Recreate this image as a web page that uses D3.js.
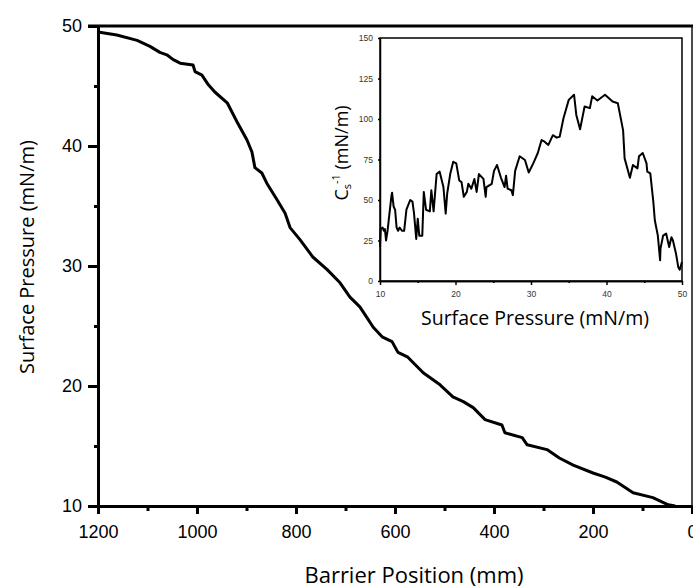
<!DOCTYPE html>
<html>
<head>
<meta charset="utf-8">
<script src="https://cdn.jsdelivr.net/npm/d3@7"></script>
<style>
  body { margin: 0; background: #fff; }
  svg { display: block; }
</style>
</head>
<body>
<div id="chart"></div>
<script>
// main isotherm: barrier position (mm) vs surface pressure (mN/m)
var barrierPos = [1200, 1162, 1121, 1095, 1075, 1061, 1048, 1034, 1008, 1004, 990, 977, 964, 939, 919, 899, 889, 883,
  869, 859, 838, 822, 812, 792, 766, 737, 711, 691,
  671, 655, 644, 626, 606, 594, 574, 543, 509, 483, 462, 442, 418, 384, 378, 343, 333, 293, 268, 240, 200, 175, 152, 119, 79, 48, 34];
var pressure = [49.5, 49.25, 48.8, 48.3, 47.8, 47.6, 47.2, 46.9, 46.75, 46.2, 45.9, 45.1, 44.5, 43.6, 42.0, 40.5, 39.5, 38.2,
  37.75, 36.9, 35.5, 34.4, 33.2, 32.2, 30.75, 29.7, 28.6, 27.4,
  26.6, 25.6, 24.9, 24.1, 23.7, 22.8, 22.4, 21.1, 20.1, 19.1, 18.7, 18.2, 17.2, 16.75, 16.1, 15.7, 15.1, 14.7, 14.0, 13.4, 12.75, 12.4, 12.0, 11.1, 10.7, 10.1, 10.0];

// inset: compressibility modulus vs surface pressure
var insetPi = [10.0, 10.1, 10.35, 10.5, 10.65, 10.8, 11.0, 11.5, 11.6, 11.8, 12.0, 12.2, 12.4, 12.6, 12.9, 13.2,
  13.5, 14.0, 14.3, 14.5, 14.8, 15.0, 15.2, 15.6, 15.8, 16.1, 16.6, 16.8, 17.1, 17.5, 17.9, 18.4, 18.7, 18.9,
  19.3, 19.7, 20.1, 20.5, 20.8, 21.1, 21.5, 21.7, 22.1, 22.5, 22.8, 23.1, 23.7, 24.0, 24.1, 24.8, 25.1, 25.5,
  26.0, 26.5, 26.7, 26.9, 27.4, 27.6, 27.9, 28.5, 29.2, 29.7, 30.3, 30.9, 31.4, 31.8, 32.3, 32.9, 33.4, 33.8,
  34.3, 35.0, 35.7, 36.0, 36.5, 37.1, 37.8, 38.1, 38.8, 39.8, 40.8, 41.5, 42.2, 42.4, 43.1, 43.5, 44.1, 44.3,
  44.8, 45.3, 45.4, 45.8, 46.2, 46.4, 46.8, 47.1, 47.15, 47.5, 47.9, 48.3, 48.6, 48.8, 49.2, 49.5, 49.7, 50.0];
var insetCs = [21, 32, 33, 31, 32, 25, 31, 52, 54.5, 46, 44, 33, 31, 33, 31, 31,
  44, 50, 49, 42, 26, 38.5, 28, 28, 55, 44, 43, 56, 43, 66, 67.5, 58, 41.6, 54,
  66, 73.6, 72.6, 62, 61, 52, 55, 60, 57, 63, 55, 66, 63, 52, 58, 60, 68, 71.6,
  64, 58, 65, 57, 56, 53, 68, 77, 74.7, 67, 72.6, 79, 87, 86, 84, 90, 88.5, 89,
  100.5, 111.8, 115, 102.5, 93.7, 107.7, 106.7, 114, 111.4, 115, 110.8, 109.7, 93, 75.7, 63.7, 71.6, 69.5, 77,
  79, 72.6, 67.5, 66.4, 49, 37.5, 28, 12.8, 20, 28, 29.3, 21, 27, 25, 17, 8.7, 7, 11.8];

var xMajor = [1200, 1000, 800, 600, 400, 200, 0];
var xMinor = [1100, 900, 700, 500, 300, 100];
var yMajor = [10, 20, 30, 40, 50];
var yMinor = [15, 25, 35, 45];
var inXMajor = [10, 20, 30, 40, 50];
var inXMinor = [15, 25, 35, 45];
var inYMajor = [0, 25, 50, 75, 100, 125, 150];

var W = 693, H = 588;
var tickFont = '"Liberation Sans", Arial, sans-serif';
var titleFont = '"Open Sans", "Noto Sans", sans-serif';

var svg = d3.select('#chart').append('svg')
    .attr('width', W)
    .attr('height', H);

var x = d3.scaleLinear().domain([1200, 0]).range([98, 692]);
var y = d3.scaleLinear().domain([10, 50]).range([506, 26]);

// frame: top and right edges
svg.append('line')
    .attr('x1', 88).attr('x2', W)
    .attr('y1', y(50)).attr('y2', y(50))
    .attr('stroke', '#000').attr('stroke-width', 3);
svg.append('line')
    .attr('x1', x(0)).attr('x2', x(0))
    .attr('y1', y(50)).attr('y2', y(10))
    .attr('stroke', '#111').attr('stroke-width', 1.5);

function styleAxis(g, width, font, size, color) {
  g.select('.domain').attr('stroke', '#000').attr('stroke-width', width);
  g.selectAll('.tick line').attr('stroke', '#000').attr('stroke-width', width);
  g.selectAll('.tick text')
      .attr('fill', color)
      .style('font-family', font)
      .style('font-size', size + 'px');
}

// minor ticks first so the major axis paints on top
svg.append('g')
    .attr('transform', 'translate(0,' + y(10) + ')')
    .call(d3.axisBottom(x).tickValues(xMinor).tickSize(5).tickSizeOuter(0).tickFormat(''))
    .call(styleAxis, 3, tickFont, 18, '#000');
svg.append('g')
    .attr('transform', 'translate(' + x(1200) + ',0)')
    .call(d3.axisLeft(y).tickValues(yMinor).tickSize(4).tickSizeOuter(0).tickFormat(''))
    .call(styleAxis, 3, tickFont, 18, '#000');

svg.append('g')
    .attr('transform', 'translate(0,' + y(10) + ')')
    .call(d3.axisBottom(x).tickValues(xMajor).tickSize(8).tickSizeOuter(0).tickPadding(11).tickFormat(d3.format('d')))
    .call(styleAxis, 3, tickFont, 18, '#000');
svg.append('g')
    .attr('transform', 'translate(' + x(1200) + ',0)')
    .call(d3.axisLeft(y).tickValues(yMajor).tickSize(10).tickSizeOuter(0).tickPadding(6).tickFormat(d3.format('d')))
    .call(styleAxis, 3, tickFont, 18, '#000');

// main curve
var mainLine = d3.line()
    .x(function(d, i) { return x(barrierPos[i]); })
    .y(function(d, i) { return y(pressure[i]); });

svg.append('path')
    .datum(pressure)
    .attr('d', mainLine)
    .attr('fill', 'none')
    .attr('stroke', '#000')
    .attr('stroke-width', 3)
    .attr('stroke-linejoin', 'round');

// axis titles
svg.append('text')
    .attr('x', 414).attr('y', 583)
    .attr('text-anchor', 'middle')
    .style('font-family', titleFont)
    .style('font-size', '22px')
    .text('Barrier Position (mm)');

svg.append('text')
    .attr('transform', 'translate(34,257) rotate(-90)')
    .attr('text-anchor', 'middle')
    .style('font-family', titleFont)
    .style('font-size', '20px')
    .text('Surface Pressure (mN/m)');

// ----- inset -----
var ix = d3.scaleLinear().domain([10, 50]).range([380, 682]);
var iy = d3.scaleLinear().domain([0, 150]).range([281, 38]);

svg.append('rect')
    .attr('x', ix(10)).attr('y', iy(150))
    .attr('width', ix(50) - ix(10))
    .attr('height', iy(0) - iy(150))
    .attr('fill', '#fff')
    .attr('stroke', '#000')
    .attr('stroke-width', 1.5);

svg.append('g')
    .attr('transform', 'translate(0,' + iy(0) + ')')
    .call(d3.axisBottom(ix).tickValues(inXMinor).tickSize(2).tickSizeOuter(0).tickFormat(''))
    .call(styleAxis, 1.5, tickFont, 8, '#333');
svg.append('g')
    .attr('transform', 'translate(0,' + iy(0) + ')')
    .call(d3.axisBottom(ix).tickValues(inXMajor).tickSize(4).tickSizeOuter(0).tickPadding(6).tickFormat(d3.format('d')))
    .call(styleAxis, 1.5, tickFont, 8.5, '#333');
svg.append('g')
    .attr('transform', 'translate(' + ix(10) + ',0)')
    .call(d3.axisLeft(iy).tickValues(inYMajor).tickSize(2).tickSizeOuter(0).tickPadding(5).tickFormat(d3.format('d')))
    .call(styleAxis, 1.5, tickFont, 8.5, '#333');

var insetLine = d3.line()
    .x(function(d, i) { return ix(insetPi[i]); })
    .y(function(d, i) { return iy(insetCs[i]); });

svg.append('path')
    .datum(insetCs)
    .attr('d', insetLine)
    .attr('fill', 'none')
    .attr('stroke', '#000')
    .attr('stroke-width', 2)
    .attr('stroke-linejoin', 'round');

svg.append('text')
    .attr('x', 535).attr('y', 325)
    .attr('text-anchor', 'middle')
    .style('font-family', titleFont)
    .style('font-size', '19.5px')
    .text('Surface Pressure (mN/m)');

var cs = svg.append('text')
    .attr('transform', 'translate(348,153) rotate(-90)')
    .attr('text-anchor', 'middle')
    .style('font-family', titleFont)
    .style('font-size', '18px');
cs.append('tspan').text('C');
cs.append('tspan').attr('dy', 3).style('font-size', '11px').text('s');
cs.append('tspan').attr('dy', -11).style('font-size', '11px').text('-1');
cs.append('tspan').attr('dy', 8).text(' (mN/m)');
</script>
</body>
</html>
